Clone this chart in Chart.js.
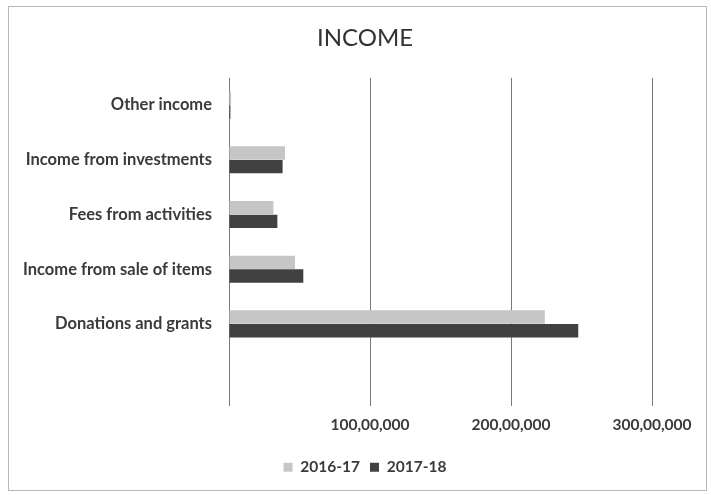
<!DOCTYPE html>
<html>
<head>
<meta charset="utf-8">
<script src="https://cdn.jsdelivr.net/npm/chart.js@4/dist/chart.umd.min.js"></script>
<style>
  body { margin: 0; background: #fff; }
  #wrap { position: relative; width: 711px; height: 495px; }
  #frame { position: absolute; left: 8px; top: 6px; width: 697px; height: 483px; border: 1px solid #b8b8b8; pointer-events: none; }
</style>
</head>
<body>
<div id="wrap">
  <canvas id="myChart" width="711" height="495"></canvas>
  <div id="frame"></div>
</div>
<script>
// categories top to bottom, last one is the empty slot Excel left at the bottom
var categories = ['Other income', 'Income from investments', 'Fees from activities', 'Income from sale of items', 'Donations and grants', ''];
var income1617 = [150000, 3970000, 3150000, 4680000, 22400000, null];
var income1718 = [100000, 3800000, 3430000, 5270000, 24770000, null];
var xTicks = [0, 10000000, 20000000, 30000000];
var xTickLabels = ['', '100,00,000', '200,00,000', '300,00,000'];

Chart.defaults.font.family = 'Lato, "Open Sans", sans-serif';
Chart.defaults.color = '#3a3a3a';

// excel centres title and legend a bit right of the canvas middle
var shiftBlocks = {
  id: 'shiftBlocks',
  afterLayout: function (chart) {
    var dx = 32;
    chart.titleBlock.left += dx;
    chart.titleBlock.right += dx;
    chart.legend.left += dx;
    chart.legend.right += dx;
    chart.legend.adjustHitBoxes();
  }
};

var ctx = document.getElementById('myChart').getContext('2d');
var myChart = new Chart(ctx, {
  type: 'bar',
  data: {
    labels: categories,
    datasets: [{
      label: '2016-17',
      data: income1617,
      backgroundColor: '#c6c6c6',
      barPercentage: 0.98,
      categoryPercentage: 0.5
    }, {
      label: '2017-18',
      data: income1718,
      backgroundColor: '#414141',
      barPercentage: 0.98,
      categoryPercentage: 0.5
    }]
  },
  plugins: [shiftBlocks],
  options: {
    indexAxis: 'y',
    responsive: false,
    animation: false,
    layout: { padding: { left: 14, right: 59, top: 18, bottom: 10 } },
    plugins: {
      title: {
        display: true,
        text: 'INCOME',
        font: { size: 24, weight: 'normal' },
        color: '#333',
        padding: { top: 6, bottom: 25 }
      },
      legend: {
        position: 'bottom',
        labels: {
          boxWidth: 9,
          boxHeight: 9,
          padding: 10,
          font: { size: 15.5, weight: 'bold' },
          color: '#3a3a3a'
        }
      },
      tooltip: { enabled: false }
    },
    scales: {
      x: {
        min: 0,
        max: 30000000,
        afterBuildTicks: function (scale) {
          scale.ticks = xTicks.map(function (v) { return { value: v }; });
        },
        afterFit: function (scale) { scale.height += 5; },
        ticks: {
          padding: 10,
          font: { size: 15.5, weight: 'bold' },
          maxRotation: 0,
          callback: function (v, i) { return xTickLabels[i]; }
        },
        grid: { color: '#7a7a7a', lineWidth: 1, drawTicks: false },
        border: { display: false }
      },
      y: {
        grid: { display: false, drawTicks: false },
        border: { display: false },
        ticks: { padding: 17, font: { size: 16.5, weight: 'bold' } },
        afterFit: function (scale) { scale.width = 215; }
      }
    }
  }
});
</script>
</body>
</html>
